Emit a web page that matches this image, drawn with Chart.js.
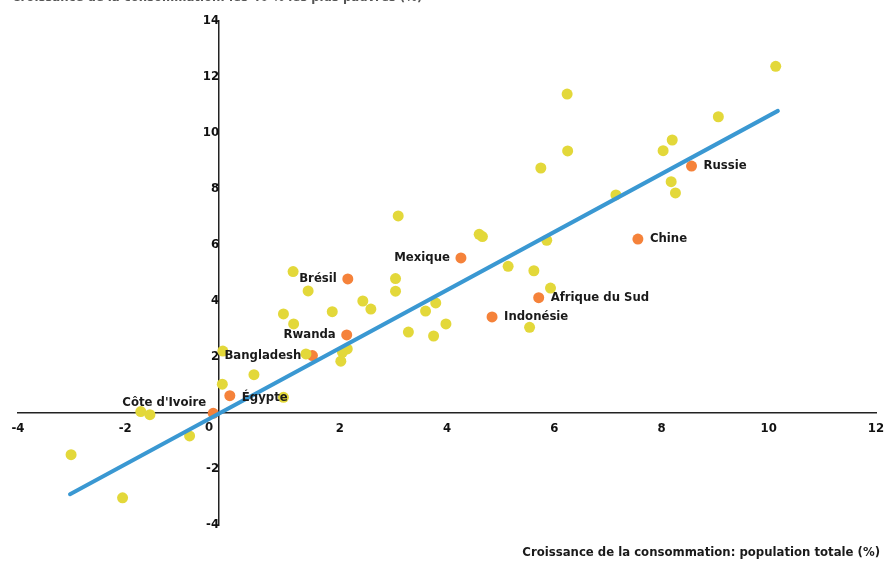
<!DOCTYPE html>
<html>
<head>
<meta charset="utf-8">
<script src="https://cdn.jsdelivr.net/npm/chart.js@4.4.1/dist/chart.umd.min.js"></script>
<style>
  body { margin: 0; background: #fff; }
  #wrap { width: 885px; height: 563px; }
</style>
</head>
<body>
<div id="wrap"><canvas id="myChart" width="885" height="563"></canvas></div>
<script>
// Données
var pays = ['Russie', 'Chine', 'Mexique', 'Brésil', 'Afrique du Sud', 'Indonésie', 'Rwanda', 'Bangladesh', 'Égypte', "Côte d'Ivoire"];
var paysTotal = [8.56, 7.56, 4.26, 2.15, 5.71, 4.84, 2.13, 1.49, -0.05, -0.36];
var paysPauvres = [8.82, 6.21, 5.54, 4.79, 4.12, 3.43, 2.79, 2.05, 0.62, -0.01];

var autresTotal = [10.13, 6.24, 9.06, 8.20, 8.03, 6.25, 5.75, 8.18, 8.26, 7.15, 3.09, 4.60, 4.66, 5.86, 1.13, 5.14, 5.62, 3.04, 1.41, 3.04, 5.93, 2.43, 3.79, 0.95, 2.58, 1.86, 3.60, 1.14, 3.98, 3.28, 3.75, 5.54, 2.14, 2.05, 2.02, 1.37, -0.18, 0.40, -0.19, 0.95, -1.71, -1.54, -0.80, -3.01, -2.05];
var autresPauvres = [12.38, 11.39, 10.58, 9.75, 9.37, 9.36, 8.75, 8.26, 7.86, 7.79, 7.04, 6.38, 6.30, 6.17, 5.05, 5.24, 5.08, 4.80, 4.36, 4.35, 4.46, 4.00, 3.93, 3.54, 3.71, 3.62, 3.64, 3.18, 3.18, 2.89, 2.75, 3.06, 2.29, 2.17, 1.85, 2.11, 2.21, 1.37, 1.03, 0.56, 0.05, -0.06, -0.82, -1.49, -3.03];

var tendanceX = [-3.03, 10.17];
var tendanceY = [-2.90, 10.79];

var titreY = 'Croissance de la consommation: les 40 % les plus pauvres (%)';
var titreX = 'Croissance de la consommation: population totale (%)';

function points(xs, ys) {
    return xs.map(function (x, i) { return { x: x, y: ys[i] }; });
}

var police = '"DejaVu Sans Condensed", "DejaVu Sans", sans-serif';

// Placement des étiquettes (côté, décalage vertical)
var placement = {
    'Russie': ['right', 0], 'Chine': ['right', 0], 'Mexique': ['left', 0], 'Brésil': ['left', 0],
    'Afrique du Sud': ['right', 0], 'Indonésie': ['right', 0], 'Rwanda': ['left', 0],
    'Bangladesh': ['left', 0], 'Égypte': ['right', 2], "Côte d'Ivoire": ['left', -11]
};

var etiquettes = {
    id: 'etiquettes',
    afterDatasetsDraw: function (chart) {
        var ctx = chart.ctx;
        var meta = chart.getDatasetMeta(2);
        ctx.save();
        ctx.font = 'bold 13px ' + police;
        ctx.fillStyle = '#1a1a1a';
        ctx.textBaseline = 'middle';
        meta.data.forEach(function (pt, i) {
            var p = placement[pays[i]];
            if (p[0] === 'right') {
                ctx.textAlign = 'left';
                ctx.fillText(pays[i], pt.x + 12, pt.y + p[1]);
            } else {
                ctx.textAlign = 'right';
                ctx.fillText(pays[i], pt.x - (p[1] ? 7 : 11), pt.y + p[1]);
            }
        });
        // "0" commun aux deux axes
        var xs = chart.scales.x, ys = chart.scales.y;
        ctx.textAlign = 'right';
        ctx.fillText('0', xs.getPixelForValue(-0.25) - 6, ys.getPixelForValue(0) + 15);
        // titres des axes
        ctx.textBaseline = 'alphabetic';
        ctx.textAlign = 'left';
        ctx.fillStyle = '#555';
        ctx.fillText(titreY, 12, 0.5);
        ctx.fillStyle = '#1a1a1a';
        ctx.textAlign = 'right';
        ctx.fillText(titreX, 880, 556);
        ctx.restore();
    }
};

var ctx = document.getElementById('myChart').getContext('2d');
var myChart = new Chart(ctx, {
    type: 'scatter',
    data: {
        datasets: [{
            type: 'line',
            data: points(tendanceX, tendanceY),
            borderColor: '#3a98d2',
            borderWidth: 4,
            borderCapStyle: 'round',
            pointRadius: 0,
            fill: false
        }, {
            data: points(autresTotal, autresPauvres),
            backgroundColor: '#e3d83a',
            borderWidth: 0,
            pointRadius: 5.5
        }, {
            data: points(paysTotal, paysPauvres),
            backgroundColor: '#f5823a',
            borderWidth: 0,
            pointRadius: 5.5
        }]
    },
    options: {
        responsive: false,
        animation: false,
        devicePixelRatio: 1,
        layout: { padding: { left: 18, right: 9, top: 21, bottom: 38 } },
        plugins: { legend: { display: false }, tooltip: { enabled: false } },
        scales: {
            x: {
                type: 'linear',
                min: -4, max: 12,
                position: { y: 0 },
                afterFit: function (s) { s.paddingLeft = 0; s.paddingRight = 0; },
                grid: { display: false, drawTicks: false },
                border: { display: true, color: '#222', width: 1.5 },
                ticks: {
                    stepSize: 2,
                    padding: 8,
                    color: '#111',
                    font: { family: police, size: 13, weight: 'bold' },
                    callback: function (v) { return v === 0 ? '' : v; }
                }
            },
            y: {
                type: 'linear',
                min: -4, max: 14,
                position: { x: -0.25 },
                grid: { display: false, drawTicks: false },
                border: { display: true, color: '#222', width: 1.5 },
                ticks: {
                    stepSize: 2,
                    padding: 6,
                    color: '#111',
                    font: { family: police, size: 13, weight: 'bold' },
                    callback: function (v) { return v === 0 ? '' : v; }
                }
            }
        }
    },
    plugins: [etiquettes]
});
</script>
</body>
</html>
